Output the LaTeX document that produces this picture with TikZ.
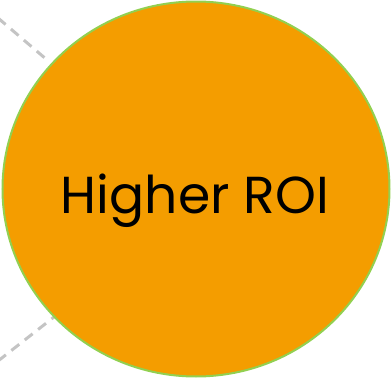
\documentclass[tikz,border=0pt]{standalone}
\usepackage{fontspec}
\setmainfont{Poppins}
\usetikzlibrary{shapes.geometric}
\definecolor{fillor}{HTML}{F49D00}
\definecolor{edgegr}{HTML}{92D050}
\definecolor{dashgr}{HTML}{C4C4C4}
\begin{document}
\begin{tikzpicture}[x=1pt,y=-1pt,
  dashline/.style={draw=dashgr,line width=3pt,dash pattern=on 10pt off 7pt},
  bigcirc/.style={ellipse,fill=fillor,draw=edgegr,line width=2pt,minimum width=387pt,minimum height=375pt,inner sep=0pt}]
\useasboundingbox (0,0) rectangle (392,378);
\coordinate (t0) at (-2,18);
\coordinate (t1) at (46,59);
\coordinate (b0) at (-2,361);
\coordinate (b1) at (54,317);
\draw[dashline] (t0) -- (t1);
\draw[dashline] (b0) -- (b1);
\node[bigcirc] (roi) at (196,189) {};
\node[font=\fontsize{52}{56}\selectfont,anchor=base] (lbl) at (195,213) {Higher ROI};
\end{tikzpicture}
\end{document}
